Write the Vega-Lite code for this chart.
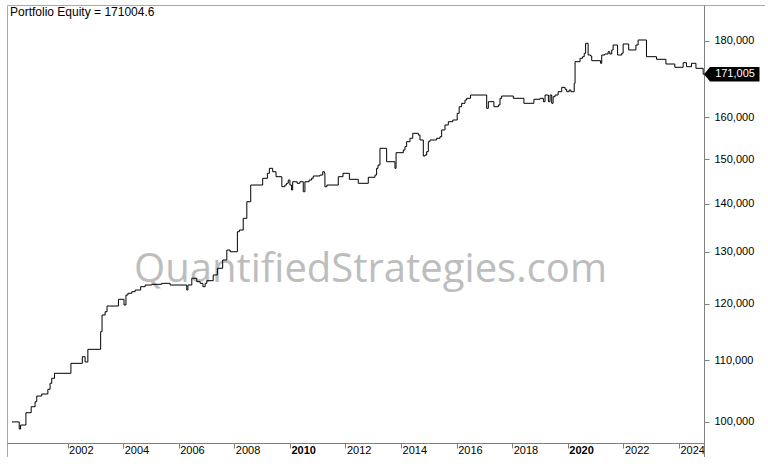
{
  "$schema": "https://vega.github.io/schema/vega-lite/v6.json",
  "width": 758,
  "height": 452,
  "padding": {"left": 7, "top": 5, "right": 0, "bottom": 0},
  "background": "white",
  "title": {"text": "Portfolio Equity = 171004.6", "anchor": "start", "frame": "group", "offset": -14, "dx": 3, "fontSize": 12, "fontWeight": "normal", "font": "Liberation Sans", "color": "black"},
  "config": {
    "view": {"stroke": "#a9a9a9", "strokeWidth": 1},
    "axis": {"labelFont": "Liberation Sans", "labelFontSize": 11, "labelColor": "black", "domainColor": "#808080", "tickColor": "#808080", "grid": false, "title": null}
  },
  "datasets": {
    "equity": [
      {"t": 2000.00, "v": 100000}, {"t": 2000.26, "v": 98910}, {"t": 2000.31, "v": 99520}, {"t": 2000.50, "v": 101430},
      {"t": 2000.69, "v": 102370}, {"t": 2000.83, "v": 103160}, {"t": 2000.89, "v": 104070}, {"t": 2001.07, "v": 104400},
      {"t": 2001.29, "v": 105160}, {"t": 2001.37, "v": 106140}, {"t": 2001.43, "v": 106960}, {"t": 2001.53, "v": 107790},
      {"t": 2002.12, "v": 109460}, {"t": 2002.53, "v": 110580}, {"t": 2002.63, "v": 109690}, {"t": 2002.73, "v": 111850},
      {"t": 2003.19, "v": 114930}, {"t": 2003.24, "v": 117930}, {"t": 2003.35, "v": 118530}, {"t": 2003.42, "v": 119580},
      {"t": 2003.83, "v": 120830}, {"t": 2004.03, "v": 119770}, {"t": 2004.10, "v": 121630}, {"t": 2004.17, "v": 121950},
      {"t": 2004.31, "v": 122250}, {"t": 2004.43, "v": 122570}, {"t": 2004.63, "v": 123200}, {"t": 2004.79, "v": 123520},
      {"t": 2005.03, "v": 123650}, {"t": 2005.39, "v": 123840}, {"t": 2005.69, "v": 123520}, {"t": 2006.29, "v": 122570},
      {"t": 2006.33, "v": 123520}, {"t": 2006.47, "v": 124810}, {"t": 2006.65, "v": 124160}, {"t": 2006.77, "v": 123840},
      {"t": 2006.87, "v": 123200}, {"t": 2006.95, "v": 123840}, {"t": 2007.01, "v": 124350}, {"t": 2007.24, "v": 125450},
      {"t": 2007.39, "v": 126750}, {"t": 2007.58, "v": 128380}, {"t": 2007.73, "v": 130370}, {"t": 2007.85, "v": 130030},
      {"t": 2008.11, "v": 134110}, {"t": 2008.18, "v": 134460}, {"t": 2008.32, "v": 136910}, {"t": 2008.45, "v": 140460},
      {"t": 2008.59, "v": 144130}, {"t": 2009.02, "v": 145630}, {"t": 2009.19, "v": 146760}, {"t": 2009.26, "v": 147890},
      {"t": 2009.38, "v": 147120}, {"t": 2009.50, "v": 145990}, {"t": 2009.71, "v": 143750}, {"t": 2009.82, "v": 144130},
      {"t": 2009.88, "v": 144510}, {"t": 2009.94, "v": 145240}, {"t": 2010.00, "v": 144130}, {"t": 2010.06, "v": 143020},
      {"t": 2010.10, "v": 144860}, {"t": 2010.26, "v": 144510}, {"t": 2010.36, "v": 144860}, {"t": 2010.48, "v": 142650},
      {"t": 2010.54, "v": 144860}, {"t": 2010.69, "v": 145240}, {"t": 2010.78, "v": 145630}, {"t": 2010.84, "v": 146150},
      {"t": 2011.08, "v": 146370}, {"t": 2011.18, "v": 147120}, {"t": 2011.24, "v": 146760}, {"t": 2011.26, "v": 143750},
      {"t": 2011.33, "v": 144130}, {"t": 2011.74, "v": 145990}, {"t": 2011.91, "v": 146760}, {"t": 2012.14, "v": 145400},
      {"t": 2012.46, "v": 144510}, {"t": 2012.82, "v": 145860}, {"t": 2013.06, "v": 146370}, {"t": 2013.12, "v": 147890},
      {"t": 2013.17, "v": 148640}, {"t": 2013.24, "v": 152530}, {"t": 2013.48, "v": 149400}, {"t": 2013.78, "v": 147890},
      {"t": 2013.82, "v": 151500}, {"t": 2014.08, "v": 152140}, {"t": 2014.14, "v": 152920}, {"t": 2014.20, "v": 154100},
      {"t": 2014.32, "v": 154910}, {"t": 2014.42, "v": 156100}, {"t": 2014.62, "v": 155690}, {"t": 2014.68, "v": 154500},
      {"t": 2014.80, "v": 150730}, {"t": 2014.86, "v": 150960}, {"t": 2014.92, "v": 151740}, {"t": 2014.98, "v": 154100},
      {"t": 2015.04, "v": 154500}, {"t": 2015.28, "v": 154910}, {"t": 2015.40, "v": 155290}, {"t": 2015.46, "v": 156910},
      {"t": 2015.58, "v": 158120}, {"t": 2015.70, "v": 158920}, {"t": 2015.86, "v": 159340}, {"t": 2016.02, "v": 160990},
      {"t": 2016.09, "v": 162640}, {"t": 2016.18, "v": 163500}, {"t": 2016.30, "v": 164330}, {"t": 2016.36, "v": 164760},
      {"t": 2016.50, "v": 165600}, {"t": 2017.08, "v": 162240}, {"t": 2017.14, "v": 163910}, {"t": 2017.34, "v": 162640},
      {"t": 2017.50, "v": 163080}, {"t": 2017.56, "v": 164760}, {"t": 2017.62, "v": 165350}, {"t": 2018.04, "v": 164760},
      {"t": 2018.42, "v": 163500}, {"t": 2018.78, "v": 164520}, {"t": 2019.00, "v": 164760}, {"t": 2019.12, "v": 163910},
      {"t": 2019.18, "v": 165600}, {"t": 2019.30, "v": 163910}, {"t": 2019.36, "v": 165600}, {"t": 2019.42, "v": 163500},
      {"t": 2019.47, "v": 165170}, {"t": 2019.54, "v": 165600}, {"t": 2019.65, "v": 166450}, {"t": 2019.78, "v": 167580},
      {"t": 2019.90, "v": 167070}, {"t": 2019.96, "v": 166450}, {"t": 2020.05, "v": 166890}, {"t": 2020.11, "v": 166450},
      {"t": 2020.23, "v": 168620}, {"t": 2020.26, "v": 174340}, {"t": 2020.44, "v": 175260}, {"t": 2020.53, "v": 175690},
      {"t": 2020.59, "v": 176620}, {"t": 2020.64, "v": 179360}, {"t": 2020.73, "v": 176150}, {"t": 2020.82, "v": 175880},
      {"t": 2020.86, "v": 174610}, {"t": 2021.18, "v": 173910}, {"t": 2021.22, "v": 176150}, {"t": 2021.33, "v": 176420},
      {"t": 2021.45, "v": 177050}, {"t": 2021.51, "v": 176420}, {"t": 2021.58, "v": 177520}, {"t": 2021.63, "v": 178890},
      {"t": 2021.79, "v": 176150}, {"t": 2021.94, "v": 176620}, {"t": 2021.99, "v": 179170}, {"t": 2022.19, "v": 177520},
      {"t": 2022.45, "v": 178890}, {"t": 2022.53, "v": 180280}, {"t": 2022.83, "v": 175690}, {"t": 2023.19, "v": 174990},
      {"t": 2023.53, "v": 173720}, {"t": 2023.85, "v": 172840}, {"t": 2024.15, "v": 174080}, {"t": 2024.27, "v": 173000},
      {"t": 2024.45, "v": 173910}, {"t": 2024.61, "v": 172570}, {"t": 2024.87, "v": 171005}, {"t": 2024.90, "v": 171005}
    ]
  },
  "layer": [
    {
      "data": {"values": [{"t": 2012.9, "v": 126400, "label": "QuantifiedStrategies.com"}]},
      "mark": {"type": "text", "font": "Open Sans", "fontSize": 40, "color": "#bdbdbd", "align": "center", "baseline": "middle"},
      "encoding": {
        "x": {"field": "t", "type": "quantitative"},
        "y": {"field": "v", "type": "quantitative"},
        "text": {"field": "label"}
      }
    },
    {
      "data": {"name": "equity"},
      "mark": {"type": "line", "interpolate": "step-after", "color": "black", "strokeWidth": 1},
      "encoding": {
        "x": {"field": "t", "type": "quantitative", "scale": {"domain": [1999.82, 2024.9], "range": [0, 697], "nice": false, "zero": false},
          "axis": {"values": [2002, 2004, 2006, 2008, 2010, 2012, 2014, 2016, 2018, 2020, 2022, 2024], "format": "d", "offset": -14, "labelAlign": "left", "labelOffset": 1, "labelBaseline": "top", "labelPadding": -4, "tickSize": 5, "labelFlush": false, "labelOverlap": false,
            "labelFontWeight": {"condition": {"test": "datum.value % 10 === 0", "value": "bold"}, "value": "normal"}}},
        "y": {"field": "v", "type": "quantitative", "scale": {"type": "log", "domain": [94729, 190280], "nice": false, "zero": false},
          "axis": {"orient": "right", "offset": -61, "values": [100000, 110000, 120000, 130000, 140000, 150000, 160000, 180000], "format": ",d", "tickSize": 5, "labelPadding": 5}}
      }
    },
    {
      "data": {"values": [{"t": 2024.9, "v": 171004.6, "label": "171,005"}]},
      "mark": {"type": "point", "shape": "M0,0L0.2,-0.24L1.85,-0.24L1.85,0.24L0.2,0.24Z", "size": 3600, "filled": true, "color": "black", "opacity": 1, "strokeWidth": 0},
      "encoding": {
        "x": {"field": "t", "type": "quantitative"},
        "y": {"field": "v", "type": "quantitative"}
      }
    },
    {
      "data": {"values": [{"t": 2024.9, "v": 171004.6, "label": "171,005"}]},
      "mark": {"type": "text", "font": "Liberation Sans", "fontSize": 11, "color": "white", "align": "center", "baseline": "middle", "dx": 31},
      "encoding": {
        "x": {"field": "t", "type": "quantitative"},
        "y": {"field": "v", "type": "quantitative"},
        "text": {"field": "label"}
      }
    }
  ]
}
